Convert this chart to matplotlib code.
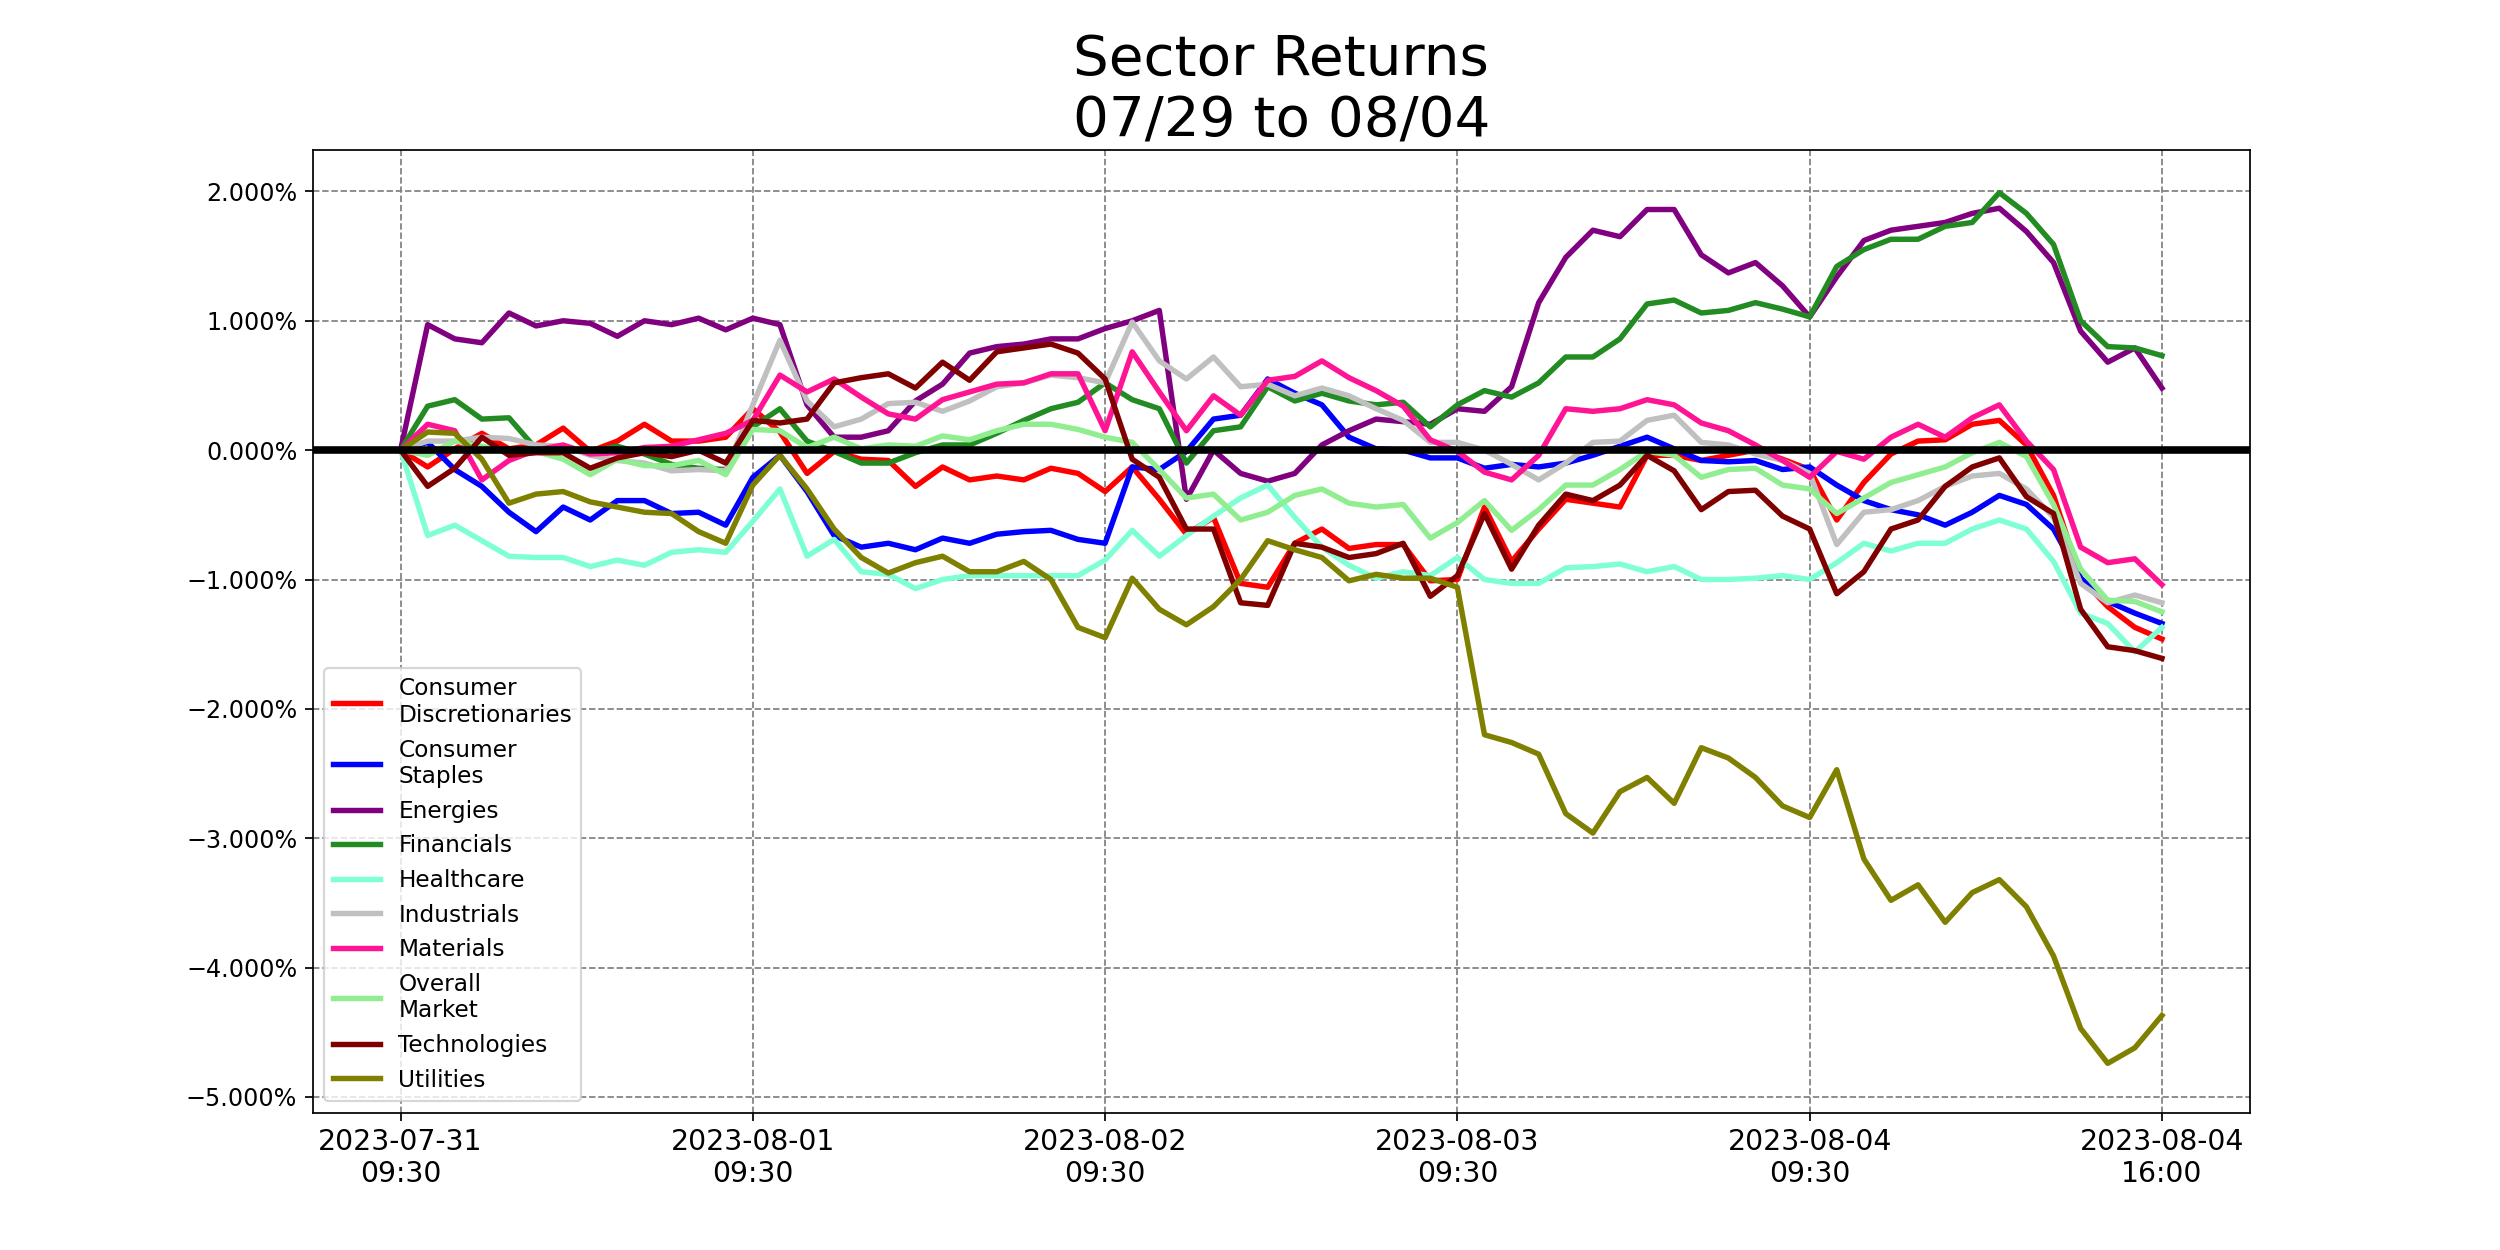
import numpy as np
import matplotlib
matplotlib.use("Agg")
import matplotlib.pyplot as plt
from matplotlib.ticker import PercentFormatter, MultipleLocator

# returns in percent, sampled every 30 min (13 per session) plus the final 16:00 close
cons_disc = [0, -0.13, 0.01, 0.13, 0.01, 0.04, 0.17, -0.01, 0.07, 0.20, 0.07, 0.07, 0.10,
             0.32, 0.14, -0.18, -0.01, -0.07, -0.08, -0.28, -0.13, -0.23, -0.20, -0.23, -0.14, -0.18,
             -0.32, -0.13, -0.38, -0.65, -0.52, -1.03, -1.06, -0.72, -0.61, -0.76, -0.73, -0.73, -1.01,
             -1.00, -0.44, -0.86, -0.61, -0.38, -0.41, -0.44, -0.04, -0.04, -0.08, -0.04, 0.00, -0.07,
             -0.15, -0.54, -0.25, -0.03, 0.07, 0.08, 0.20, 0.23, 0.04, -0.35, -0.99, -1.21, -1.37, -1.46]
cons_stap = [0, 0.06, -0.15, -0.28, -0.48, -0.63, -0.44, -0.54, -0.39, -0.39, -0.49, -0.48, -0.58,
             -0.21, -0.04, -0.32, -0.66, -0.75, -0.72, -0.77, -0.68, -0.72, -0.65, -0.63, -0.62, -0.69,
             -0.72, -0.13, -0.15, -0.01, 0.24, 0.27, 0.55, 0.44, 0.35, 0.10, 0.01, 0.00, -0.06,
             -0.06, -0.14, -0.11, -0.13, -0.10, -0.04, 0.03, 0.10, 0.01, -0.08, -0.09, -0.08, -0.15,
             -0.13, -0.27, -0.39, -0.46, -0.50, -0.58, -0.48, -0.35, -0.42, -0.61, -0.99, -1.17, -1.26, -1.34]
energies = [0, 0.97, 0.86, 0.83, 1.06, 0.96, 1.00, 0.98, 0.88, 1.00, 0.97, 1.02, 0.93,
            1.02, 0.97, 0.35, 0.10, 0.10, 0.15, 0.38, 0.51, 0.75, 0.80, 0.82, 0.86, 0.86,
            0.94, 1.00, 1.08, -0.38, 0.00, -0.18, -0.24, -0.18, 0.04, 0.15, 0.24, 0.22, 0.20,
            0.32, 0.30, 0.49, 1.14, 1.49, 1.70, 1.65, 1.86, 1.86, 1.51, 1.37, 1.45, 1.27,
            1.03, 1.34, 1.62, 1.70, 1.73, 1.76, 1.83, 1.87, 1.69, 1.45, 0.92, 0.68, 0.79, 0.48]
financials = [0, 0.34, 0.39, 0.24, 0.25, 0.01, 0.01, -0.01, 0.03, -0.03, -0.11, -0.14, -0.15,
              0.18, 0.32, 0.07, -0.01, -0.10, -0.10, -0.02, 0.04, 0.04, 0.13, 0.23, 0.32, 0.37,
              0.52, 0.39, 0.32, -0.10, 0.15, 0.18, 0.49, 0.38, 0.44, 0.38, 0.35, 0.37, 0.18,
              0.35, 0.46, 0.41, 0.52, 0.72, 0.72, 0.86, 1.13, 1.16, 1.06, 1.08, 1.14, 1.09,
              1.03, 1.42, 1.55, 1.63, 1.63, 1.73, 1.76, 1.99, 1.83, 1.59, 1.00, 0.80, 0.79, 0.73]
healthcare = [0, -0.66, -0.58, -0.70, -0.82, -0.83, -0.83, -0.90, -0.85, -0.89, -0.79, -0.77, -0.79,
              -0.55, -0.30, -0.82, -0.69, -0.94, -0.96, -1.07, -1.00, -0.97, -0.97, -0.97, -0.97, -0.97,
              -0.85, -0.62, -0.82, -0.66, -0.51, -0.37, -0.27, -0.52, -0.75, -0.89, -0.99, -0.94, -0.97,
              -0.83, -1.00, -1.03, -1.03, -0.91, -0.90, -0.88, -0.94, -0.90, -1.00, -1.00, -0.99, -0.97,
              -1.00, -0.87, -0.72, -0.78, -0.72, -0.72, -0.61, -0.54, -0.61, -0.86, -1.26, -1.34, -1.56, -1.37]
industrials = [0, 0.07, 0.07, 0.10, 0.09, 0.04, 0.03, -0.04, -0.08, -0.10, -0.16, -0.15, -0.16,
               0.35, 0.85, 0.38, 0.18, 0.24, 0.36, 0.37, 0.30, 0.38, 0.49, 0.52, 0.58, 0.56,
               0.52, 0.99, 0.69, 0.55, 0.72, 0.49, 0.51, 0.42, 0.48, 0.42, 0.32, 0.23, 0.06,
               0.06, 0.00, -0.11, -0.23, -0.10, 0.06, 0.07, 0.23, 0.27, 0.06, 0.04, -0.03, -0.08,
               -0.18, -0.73, -0.48, -0.46, -0.39, -0.28, -0.20, -0.18, -0.30, -0.52, -1.03, -1.18, -1.12, -1.18]
materials = [0, 0.20, 0.15, -0.23, -0.08, 0.00, 0.04, -0.03, -0.02, 0.02, 0.03, 0.08, 0.13,
             0.23, 0.58, 0.45, 0.55, 0.41, 0.28, 0.24, 0.39, 0.45, 0.51, 0.52, 0.59, 0.59,
             0.15, 0.76, 0.45, 0.15, 0.42, 0.27, 0.54, 0.57, 0.69, 0.56, 0.46, 0.34, 0.08,
             -0.01, -0.17, -0.23, -0.04, 0.32, 0.30, 0.32, 0.39, 0.35, 0.21, 0.15, 0.04, -0.08,
             -0.21, -0.01, -0.07, 0.10, 0.20, 0.10, 0.25, 0.35, 0.07, -0.15, -0.75, -0.87, -0.84, -1.04]
overall = [0, -0.04, 0.07, 0.03, -0.01, -0.01, -0.07, -0.19, -0.07, -0.12, -0.12, -0.08, -0.19,
           0.16, 0.15, 0.02, 0.10, 0.01, 0.04, 0.03, 0.11, 0.08, 0.15, 0.20, 0.20, 0.16,
           0.10, 0.06, -0.15, -0.37, -0.34, -0.54, -0.48, -0.35, -0.30, -0.41, -0.44, -0.42, -0.68,
           -0.56, -0.39, -0.62, -0.46, -0.27, -0.27, -0.15, -0.01, -0.04, -0.21, -0.15, -0.14, -0.27,
           -0.30, -0.49, -0.37, -0.25, -0.19, -0.13, -0.02, 0.06, -0.05, -0.42, -0.92, -1.16, -1.17, -1.25]
technologies = [0, -0.28, -0.14, 0.10, -0.04, -0.02, -0.02, -0.14, -0.06, -0.02, -0.05, 0.00, -0.10,
                0.23, 0.21, 0.24, 0.52, 0.56, 0.59, 0.48, 0.68, 0.54, 0.76, 0.79, 0.82, 0.75,
                0.55, -0.07, -0.21, -0.61, -0.61, -1.18, -1.20, -0.72, -0.75, -0.83, -0.80, -0.72, -1.13,
                -0.97, -0.49, -0.92, -0.58, -0.34, -0.39, -0.27, -0.04, -0.16, -0.46, -0.32, -0.31, -0.51,
                -0.61, -1.11, -0.94, -0.61, -0.54, -0.28, -0.13, -0.06, -0.36, -0.49, -1.23, -1.52, -1.55, -1.61]
utilities = [0, 0.14, 0.13, -0.07, -0.41, -0.34, -0.32, -0.40, -0.44, -0.48, -0.49, -0.63, -0.72,
             -0.27, -0.04, -0.30, -0.61, -0.83, -0.95, -0.87, -0.82, -0.94, -0.94, -0.86, -1.00, -1.37,
             -1.45, -0.99, -1.23, -1.35, -1.21, -1.00, -0.70, -0.77, -0.83, -1.01, -0.96, -0.99, -0.99,
             -1.06, -2.20, -2.26, -2.35, -2.81, -2.96, -2.64, -2.53, -2.73, -2.30, -2.38, -2.53, -2.75,
             -2.84, -2.47, -3.16, -3.48, -3.36, -3.65, -3.42, -3.32, -3.53, -3.91, -4.47, -4.74, -4.62, -4.37]

sectors = ['Consumer\nDiscretionaries', 'Consumer\nStaples', 'Energies', 'Financials',
           'Healthcare', 'Industrials', 'Materials', 'Overall\nMarket', 'Technologies', 'Utilities']
colores = ['red', 'blue', 'purple', 'forestgreen', 'aquamarine', 'silver',
           'deeppink', 'lightgreen', 'maroon', 'olive']
tick_labels = ['2023-07-31\n09:30', '2023-08-01\n09:30', '2023-08-02\n09:30',
               '2023-08-03\n09:30', '2023-08-04\n09:30', '2023-08-04\n16:00']
per_day = 13


def main():
    series = [cons_disc, cons_stap, energies, financials, healthcare,
              industrials, materials, overall, technologies, utilities]
    x = np.arange(len(cons_disc)) / per_day

    fig, ax = plt.subplots(figsize=(16, 8), dpi=156.25)
    for nombre, color, y in zip(sectors, colores, series):
        ax.plot(x, y, color=color, linewidth=2.5, label=nombre)
    ax.axhline(0, color='black', linewidth=3.5)

    ax.set_xticks(range(len(tick_labels)))
    ax.set_xticklabels(tick_labels, fontsize=13)
    ax.yaxis.set_major_locator(MultipleLocator(1))
    ax.yaxis.set_major_formatter(PercentFormatter(100, decimals=3))
    ax.tick_params(axis='y', labelsize=11)
    ax.set_ylim(-5.12, 2.32)
    ax.grid(True, linestyle='--', color='gray', linewidth=0.8)
    ax.set_title('Sector Returns\n07/29 to 08/04', fontsize=26)
    ax.legend(loc='lower left', fontsize=10.7)

    plt.savefig('out.png')
    plt.close()


if __name__ == '__main__':
    main()
